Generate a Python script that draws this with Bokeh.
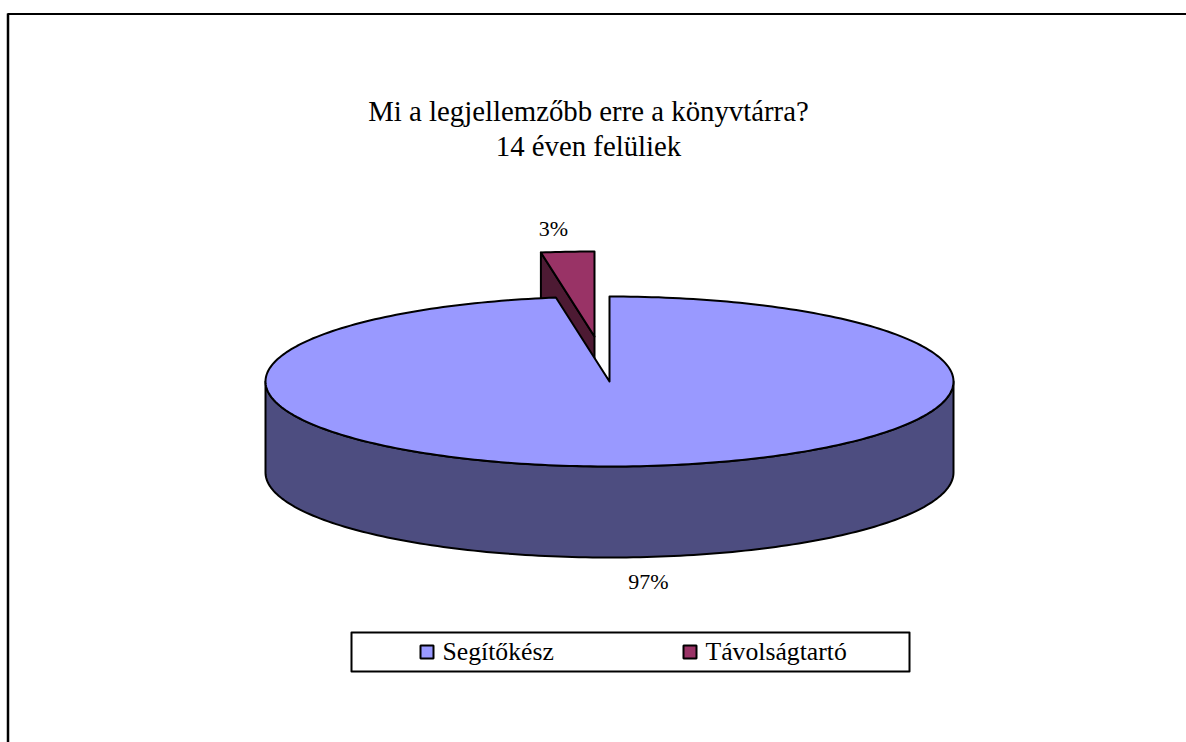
import numpy as np
from bokeh.plotting import figure
from bokeh.models import Range1d
from bokeh.core.properties import value
from bokeh.embed import file_html
from bokeh.resources import INLINE

# Data
categories = ["Segítőkész", "Távolságtartó"]
shares = [97, 3]
share_labels = ["97%", "3%"]
title_lines = ["Mi a legjellemzőbb erre a könyvtárra?", "14 éven felüliek"]

# Styles and layout (page pixel coordinates)
top_colors = ["#9999FF", "#993366"]
side_colors = ["#4D4D80", "#4D1A33"]
FONT = value("Liberation Serif")
CX, CY, RX, RY, DEPTH = 609, 381, 344, 85, 91
EXPLODE = (-15, -45)
FORESHORTEN = 0.83  # the projected sweep of the small slice

p = figure(width=1186, height=742, output_backend="svg", toolbar_location=None,
           x_range=Range1d(0, 1186), y_range=Range1d(742, 0),
           x_axis_type=None, y_axis_type=None, min_border=0,
           outline_line_color=None, background_fill_color="white",
           border_fill_color="white")
p.grid.visible = False


def ellipse_pt(t, cx=CX, cy=CY):
    return cx + RX * np.sin(t), cy - RY * np.cos(t)


sweep_small = 2 * np.pi * shares[1] / sum(shares) * FORESHORTEN
LINE = dict(line_color="black", line_width=2, line_join="round")

# Chart frame: runs off the right and bottom of the picture
p.line([7.5, 7.5], [13, 742], line_color="black", line_width=2.5)
p.line([7, 1186], [13.5, 13.5], line_color="black", line_width=2)

# Exploded slice: side wall, then top face
tip_x, tip_y = CX + EXPLODE[0], CY + EXPLODE[1]
arc_t = np.linspace(2 * np.pi - sweep_small, 2 * np.pi, 12)
ax, ay = ellipse_pt(arc_t, tip_x, tip_y)
p.patch([ax[0], tip_x, tip_x, ax[0]], [ay[0], tip_y, tip_y + DEPTH, ay[0] + DEPTH],
        fill_color=side_colors[1], **LINE)
p.patch(list(ax) + [tip_x], list(ay) + [tip_y], fill_color=top_colors[1], **LINE)

# Large slice: front wall
front_t = np.linspace(np.pi / 2, 3 * np.pi / 2, 160)
fx, fy = ellipse_pt(front_t)
p.patch(list(fx) + list(fx[::-1]), list(fy) + list((fy + DEPTH)[::-1]),
        fill_color=side_colors[0], **LINE)

# Large slice: top face
big_t = np.linspace(0, 2 * np.pi - sweep_small, 300)
bx, by = ellipse_pt(big_t)
p.patch(list(bx) + [CX], list(by) + [CY], fill_color=top_colors[0], **LINE)

# Title
p.text([588, 588], [110, 145], text=title_lines, text_font=FONT, text_font_size="28.8px",
       text_align="center", text_baseline="middle", text_color="black")

# Data labels
p.text([648, 553], [581, 228], text=share_labels, text_font=FONT, text_font_size="22px",
       text_align="center", text_baseline="middle", text_color="black")

# Legend
p.quad(left=[351], right=[909], top=[632], bottom=[671], fill_color="white", **LINE)
p.quad(left=[420, 683], right=[433, 696], top=[645, 645], bottom=[658, 658],
       fill_color=top_colors, line_color="black", line_width=2)
p.text([442, 705], [651, 651], text=categories, text_font=FONT, text_font_size="25.7px",
       text_align="left", text_baseline="middle", text_color="black")

open("out.html", "w").write(file_html(p, INLINE))
